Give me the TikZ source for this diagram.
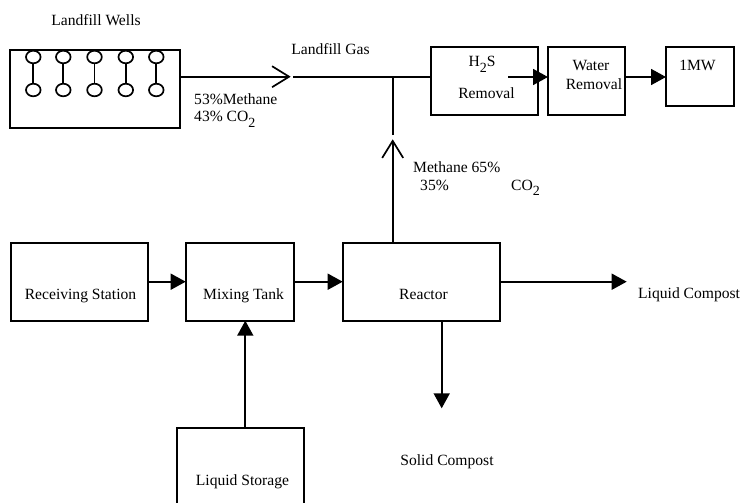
\documentclass[tikz,border=0pt]{standalone}
\usepackage{fontspec}
\setmainfont{Liberation Serif}
\usetikzlibrary{arrows.meta,shapes.geometric}
\newcommand{\subtwo}{\raisebox{-5.5pt}{\fontsize{14}{16}\selectfont 2}}
\begin{document}
\begin{tikzpicture}[x=1pt,y=-1pt,
  box/.style={draw,line width=2pt,inner sep=0pt,outer sep=0pt},
  well/.style={draw,ellipse,line width=1.7pt,inner sep=0pt,outer sep=0pt,minimum width=14.6pt,minimum height=12.6pt},
  txt/.style={inner sep=0pt,font=\fontsize{15.6}{18}\selectfont},
  conn/.style={line width=1.7pt},
  fillarrow/.style={conn,-{Triangle[length=15pt,width=16pt]}},
  openarrow/.style={conn,-{Straight Barb[length=17pt,width=21pt,line width=1.7pt]}}]
\clip (0,0) rectangle (753,503);
\useasboundingbox (0,0) rectangle (753,503);
% boxes
\node[box,minimum width=170pt,minimum height=78pt] (wells) at (95,89) {};
\node[box,minimum width=107pt,minimum height=68pt] (h2s) at (484.5,81) {};
\node[box,minimum width=77pt,minimum height=68pt] (water) at (586.5,81) {};
\node[box,minimum width=68pt,minimum height=59pt] (mw) at (700,76.5) {};
\node[box,minimum width=137pt,minimum height=78pt] (rs) at (79.2,281.7) {};
\node[box,minimum width=108.6pt,minimum height=78pt] (mix) at (240,281.7) {};
\node[box,minimum width=157.3pt,minimum height=78pt] (reactor) at (421.35,281.7) {};
\node[box,minimum width=127.6pt,minimum height=90pt] (ls) at (240.5,473.3) {};
% wells
\foreach \i/\x in {1/33.3,2/63.3,3/94.5,4/125.8,5/156.3}{
  \node[well] (t\i) at (\x,57) {};
  \node[well] (b\i) at (\x,90) {};
  \draw[line width=1.9pt] (t\i.south) -- (b\i.north);
}
% texts
\node[txt,anchor=base] (lw) at (96,26) {Landfill Wells};
\node[txt,anchor=base] (lg) at (330.5,54.3) {Landfill Gas};
\node[txt,anchor=base west] (m53) at (194,105) {53\%Methane};
\node[txt,anchor=base west] (c43) at (194,121.7) {43\% CO\subtwo};
\node[txt,anchor=base] (h2st) at (482,66.7) {H\subtwo S};
\node[txt,anchor=base] (h2sr) at (486.5,98.3) {Removal};
\node[txt,anchor=base] (wt) at (591,70.7) {Water};
\node[txt,anchor=base] (wr) at (594,90) {Removal};
\node[txt,anchor=base] (mwt) at (697.5,70.7) {1MW};
\node[txt,anchor=base west] (m65) at (413,172.7) {Methane 65\%};
\node[txt,anchor=base west] (p35) at (420,190) {35\%};
\node[txt,anchor=base west] (co2) at (511,190) {CO\subtwo};
\node[txt,anchor=base] (rst) at (80.5,299.3) {Receiving Station};
\node[txt,anchor=base] (mixt) at (243.6,299.3) {Mixing Tank};
\node[txt,anchor=base] (rt) at (423.5,299) {Reactor};
\node[txt,anchor=base west] (lct) at (638,298.3) {Liquid Compost};
\node[txt,anchor=base] (lst) at (242.5,485.7) {Liquid Storage};
\node[txt,anchor=base] (sct) at (447,465) {Solid Compost};
% gas connectors
\coordinate (g1) at (290.7,76.7);
\coordinate (g2) at (293.3,76.7);
\coordinate (j) at (392.7,76.7);
\coordinate (v1) at (392.7,139.3);
\coordinate (v2) at (392.7,135);
\draw[openarrow] (wells.east |- g1) -- (g1);
\draw[conn] (g2) -- (h2s.west |- g2);
\draw[openarrow] (reactor.north -| v1) -- (v1);
\draw[conn] (v2) -- (j);
\coordinate (hs) at (508,77);
\draw[fillarrow] (hs) -- (water.west |- hs);
\draw[fillarrow] (water.east |- hs) -- (mw.west |- hs);
% process connectors
\draw[fillarrow] (rs.east) -- (mix.west);
\draw[fillarrow] (mix.east) -- (reactor.west);
\coordinate (lc) at (626.7,281.7);
\draw[fillarrow] (reactor.east) -- (lc);
\coordinate (lsx) at (245.3,400);
\draw[fillarrow] (ls.north -| lsx) -- (mix.south -| lsx);
\coordinate (sc) at (441.7,408.3);
\draw[fillarrow] (reactor.south -| sc) -- (sc);
\end{tikzpicture}
\end{document}
